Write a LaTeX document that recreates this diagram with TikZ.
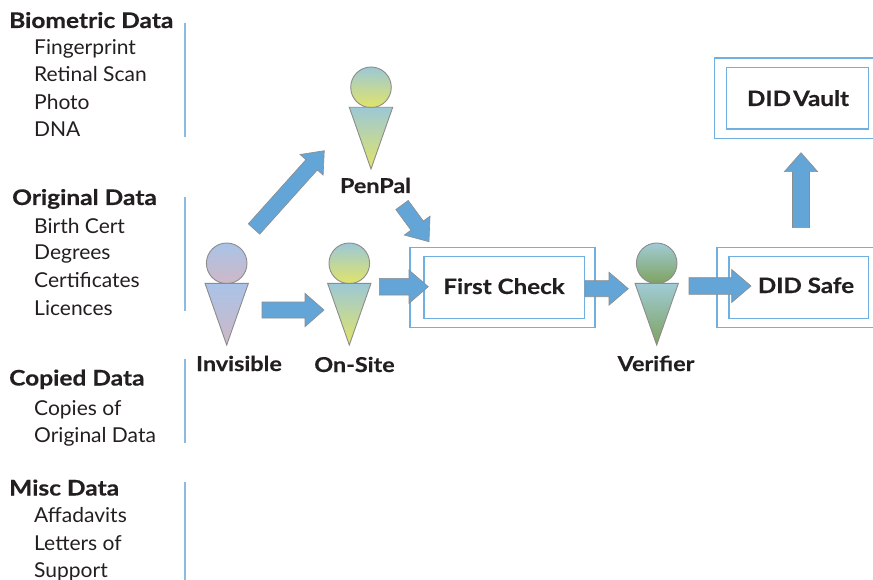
\documentclass[tikz,border=0pt]{standalone}
\usepackage{fontspec}
\setmainfont{Lato}[FakeStretch=1.025]
\newfontfamily\labf{Lato}[FakeStretch=1.14,BoldFeatures={FakeBold=0.35}]
\usetikzlibrary{calc}
\definecolor{arrowblue}{HTML}{64A5D8}
\definecolor{boxblue}{HTML}{6FB0E0}
\definecolor{edgegray}{HTML}{8C8C8C}
\definecolor{lineblue}{HTML}{8DBBE0}
\definecolor{txt}{HTML}{231F20}
\definecolor{invA}{HTML}{A9C3E8}
\definecolor{invB}{HTML}{B8BEDA}
\definecolor{invC}{HTML}{CFB8C6}
\definecolor{yelA}{HTML}{9CC8D6}
\definecolor{yelB}{HTML}{B4D2A8}
\definecolor{yelC}{HTML}{E2E468}
\definecolor{verA}{HTML}{A0CBD6}
\definecolor{verB}{HTML}{A2CCD2}
\definecolor{verC}{HTML}{7FA25E}
\tikzset{
 x=1pt,y=-1pt,
 bx/.style={draw=boxblue,line width=1.3pt,fill=white},
 fat/.style={draw=edgegray,line width=.6pt,fill=arrowblue},
 person/.style={draw=edgegray,line width=.9pt},
 lab/.style={font=\labf\fontsize{21.2pt}{24pt}\selectfont\bfseries,text=txt,inner sep=0pt,anchor=base},
 plab/.style={font=\labf\fontsize{20.5pt}{24pt}\selectfont\bfseries,text=txt,inner sep=0pt,anchor=base},
 head/.style={font=\labf\fontsize{21.5pt}{24pt}\selectfont\bfseries,text=txt,inner sep=0pt,anchor=base west},
 item/.style={font=\fontsize{20.5pt}{24pt}\selectfont,text=txt,inner sep=0pt,anchor=base west},
 sep/.style={draw=lineblue,line width=1.3pt},
}
% tail, tip, shaft half width, head half width, head length
\newcommand{\fatarrow}[5]{%
 \coordinate (hb) at ($(#2)!#5pt!(#1)$);
 \draw[fat] ($(#1)!#3pt!-90:(#2)$) -- ($(hb)!#3pt!-90:(#2)$) -- ($(hb)!#4pt!-90:(#2)$) -- (#2)
   -- ($(hb)!#4pt!90:(#2)$) -- ($(hb)!#3pt!90:(#2)$) -- ($(#1)!#3pt!90:(#2)$) -- cycle;
}
% name, centre x, top colour, mid colour, bottom colour, circle y, triangle top y, tip y
\newcommand{\personfig}[8]{%
 \draw[person,top color=#3,middle color=#4,bottom color=#5] (#2,#6) circle (20.3);
 \draw[person,top color=#3,middle color=#4,bottom color=#5] (#2-21.7,#7) -- (#2+21.7,#7) -- (#2,#8) -- cycle;
 \coordinate (#1) at (#2,#7);
}
\begin{document}
\begin{tikzpicture}
\useasboundingbox (0,0) rectangle (873,580);
\fill[white] (0,0) rectangle (873,580);
% separators
\coordinate (s1a) at (185,23); \coordinate (s1b) at (185,137);
\coordinate (s2a) at (185,197); \coordinate (s2b) at (185,311);
\coordinate (s3a) at (185,359); \coordinate (s3b) at (185,443);
\coordinate (s4a) at (185,482); \coordinate (s4b) at (185,580);
\draw[sep] (s1a)--(s1b); \draw[sep] (s2a)--(s2b); \draw[sep] (s3a)--(s3b); \draw[sep] (s4a)--(s4b);
% left lists
\node[head] (h1) at (9,28) {Biometric Data};
\node[item] (i11) at (34,55) {Fingerprint};
\node[item] (i12) at (34,82) {Retinal Scan};
\node[item] (i13) at (34,109.7) {Photo};
\node[item] (i14) at (34,136.7) {DNA};
\node[head] (h2) at (12,205) {Original Data};
\node[item] (i21) at (34,233.7) {Birth Cert};
\node[item] (i22) at (34,260) {Degrees};
\node[item] (i23) at (34,287.7) {Certificates};
\node[item] (i24) at (34,315) {Licences};
\node[head] (h3) at (9,385.5) {Copied Data};
\node[item] (i31) at (34,415) {Copies of};
\node[item] (i32) at (34,442.7) {Original Data};
\node[head] (h4) at (9,495.5) {Misc Data};
\node[item] (i41) at (34,522.7) {Affadavits};
\node[item] (i42) at (34,550) {Letters of};
\node[item] (i43) at (34,577) {Support};
% boxes
\draw[bx] (410,247.3) rectangle (595,327.3);
\draw[bx] (424,256.7) rectangle (584.3,318.3);
\node[lab] (first) at (504,294) {First Check};
\draw[bx] (717,247.3) rectangle (880,327.3);
\draw[bx] (729,256.7) rectangle (868.3,318.3);
\node[lab] (safe) at (806,293) {DID Safe};
\draw[bx] (714.3,58) rectangle (880,138.3);
\draw[bx] (726.3,67.3) rectangle (868.3,129);
\node[lab] (vault) at (798,106) {DID\hspace{.1em}Vault};
% people
\personfig{inv}{226.7}{invA}{invB}{invC}{263.3}{283.3}{345}
\personfig{ons}{349.3}{yelA}{yelB}{yelC}{263.3}{283.3}{345}
\personfig{pen}{371}{yelA}{yelB}{yelC}{87.3}{107.3}{169}
\personfig{ver}{656.7}{verA}{verB}{verC}{263.3}{283.3}{345}
\node[plab] (linv) at (239,371) {Invisible};
\node[plab] (lons) at (354.5,372) {On-Site};
\node[plab] (lpen) at (375.5,193) {PenPal};
\node[plab] (lver) at (656,371) {Verifier};
% arrows
\coordinate (t1) at (254,229); \coordinate (e1) at (324.3,150.7);
\coordinate (t2) at (402,205); \coordinate (e2) at (429,241.7);
\coordinate (t3) at (262,310); \coordinate (e3) at (324,310);
\coordinate (t4) at (379.3,286.7); \coordinate (e4) at (428.3,286.7);
\coordinate (t5) at (585,288.7); \coordinate (e5) at (628.3,288.7);
\coordinate (t6) at (689,286); \coordinate (e6) at (751,286);
\coordinate (t7) at (801,227.7); \coordinate (e7) at (801,152.7);
\fatarrow{t1}{e1}{7.7}{15.5}{19}
\fatarrow{t2}{e2}{7.7}{16}{20}
\fatarrow{t3}{e3}{8}{16.7}{19}
\fatarrow{t4}{e4}{8.3}{16.7}{19.3}
\fatarrow{t5}{e5}{8}{16.5}{19.3}
\fatarrow{t6}{e6}{8.3}{16.5}{19.3}
\fatarrow{t7}{e7}{8.5}{16.7}{19}
\end{tikzpicture}
\end{document}
